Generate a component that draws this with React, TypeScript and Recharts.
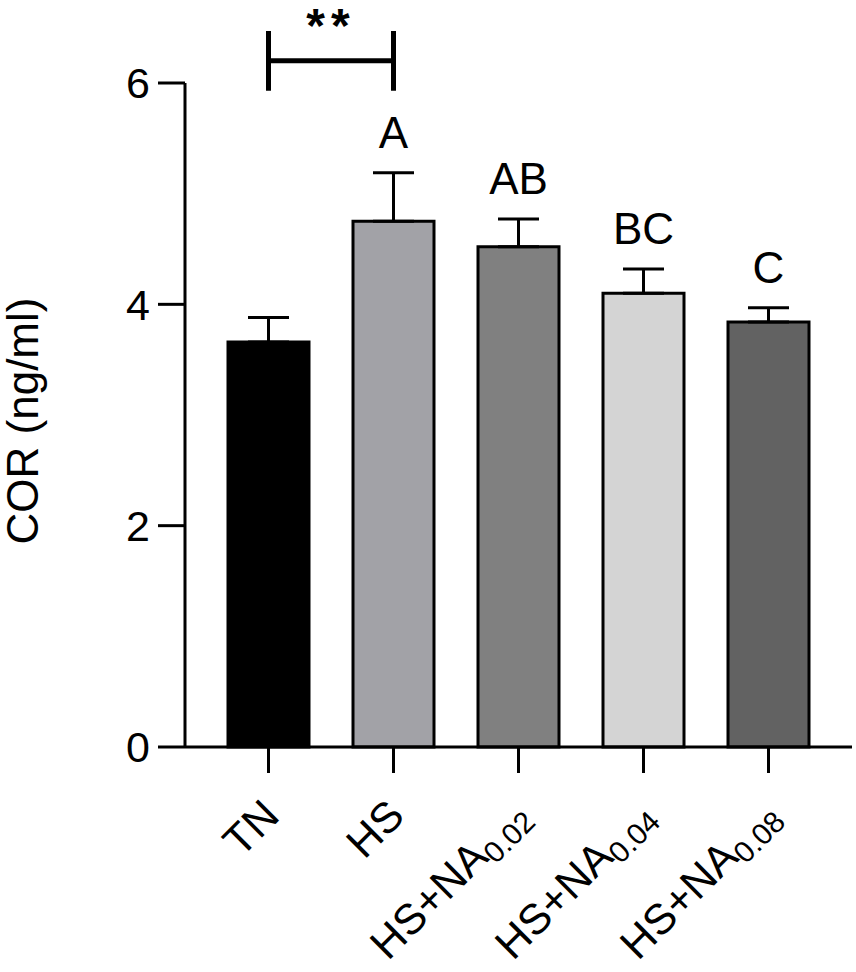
import React from 'react';
import { BarChart, Bar, XAxis, YAxis, Cell, ErrorBar, LabelList, ReferenceLine } from 'recharts';

const categories = ['TN', 'HS', 'HS+NA0.02', 'HS+NA0.04', 'HS+NA0.08'];
const tickMain = ['TN', 'HS', 'HS+NA', 'HS+NA', 'HS+NA'];
const tickSub = ['', '', '0.02', '0.04', '0.08'];
const means = [3.66, 4.75, 4.52, 4.1, 3.84];
const sems = [0.22, 0.44, 0.25, 0.22, 0.13];
const letters = ['', 'A', 'AB', 'BC', 'C'];
const fills = ['#000000', '#a2a2a7', '#808080', '#d4d4d4', '#626262'];
const yTicks = [0, 2, 4, 6];
const bracketFrom = 'TN';
const bracketTo = 'HS';
const bracketY = 6.2;
const bracketTop = 6.47;
const bracketBottom = 5.93;
const bracketText = '**';

const data = categories.map((name, i) => ({
  name,
  mean: means[i],
  err: [0, sems[i]],
  idx: i,
}));

const FONT = "Arial, 'Liberation Sans', sans-serif";

const XTick = (props: any) => {
  const { x, y, index } = props;
  const i = typeof index === 'number' ? index : categories.indexOf(props.payload?.value);
  const ax = x + 13;
  const ay = y + 43;
  return (
    <text
      x={ax}
      y={ay}
      transform={`rotate(-45, ${ax}, ${ay})`}
      textAnchor="end"
      fontSize={43}
      fontFamily={FONT}
      fill="#000"
    >
      {tickMain[i]}
      {tickSub[i] ? (
        <tspan fontSize={30} dy={8}>
          {tickSub[i]}
        </tspan>
      ) : null}
    </text>
  );
};

const LetterLabel = (props: any) => {
  const vb = props.viewBox || props;
  const i = props.value;
  if (typeof i !== 'number' || !letters[i]) return null;
  const pxPerUnit = vb.height / means[i];
  const errTop = vb.y - sems[i] * pxPerUnit;
  return (
    <text
      x={vb.x + vb.width / 2}
      y={errTop - 25}
      textAnchor="middle"
      fontSize={44}
      fontFamily={FONT}
      fill="#000"
    >
      {letters[i]}
    </text>
  );
};

const StarLabel = (props: any) => {
  const vb = props.viewBox;
  if (!vb) return null;
  return (
    <text
      x={vb.x + (vb.width || 0) / 2}
      y={vb.y - 19}
      textAnchor="middle"
      fontSize={48}
      fontWeight="bold"
      letterSpacing={6}
      fontFamily={FONT}
      fill="#000"
    >
      {bracketText}
    </text>
  );
};

const YLabel = (props: any) => {
  const vb = props.viewBox;
  const cx = vb.x - 47;
  const cy = vb.y + vb.height / 2 + 6;
  return (
    <text
      x={cx}
      y={cy}
      transform={`rotate(-90, ${cx}, ${cy})`}
      textAnchor="middle"
      fontSize={44}
      fontFamily={FONT}
      fill="#000"
    >
      COR (ng/ml)
    </text>
  );
};

export default function App() {
  return (
    <div style={{ position: 'absolute', left: 0, top: 0, width: 856, height: 972, background: '#fff' }}>
      <BarChart
        width={856}
        height={972}
        data={data}
        margin={{ top: 83, right: 4, left: 85, bottom: 25 }}
      >
        <XAxis
          dataKey="name"
          height={200}
          padding={{ left: 21, right: 21 }}
          axisLine={{ stroke: '#000', strokeWidth: 3 }}
          tickLine={{ stroke: '#000', strokeWidth: 3 }}
          tickSize={26}
          tickMargin={2}
          interval={0}
          tick={<XTick />}
        />
        <YAxis
          width={100}
          domain={[0, 6]}
          ticks={yTicks}
          axisLine={{ stroke: '#000', strokeWidth: 3 }}
          tickLine={{ stroke: '#000', strokeWidth: 3 }}
          tickSize={27}
          tickMargin={8}
          tick={{ fontSize: 43, fontFamily: FONT, fill: '#000' }}
          label={<YLabel />}
        />
        <Bar dataKey="mean" barSize={81} stroke="#000" strokeWidth={3} isAnimationActive={false}>
          {data.map((d, i) => (
            <Cell key={d.name} fill={fills[i]} />
          ))}
          <ErrorBar dataKey="err" width={20.5} stroke="#000" strokeWidth={3} direction="y" isAnimationActive={false} />
          <LabelList dataKey="idx" content={<LetterLabel />} />
        </Bar>
        <ReferenceLine
          segment={[{ x: bracketFrom, y: bracketY }, { x: bracketTo, y: bracketY }]}
          stroke="#000"
          strokeWidth={5}
          ifOverflow="visible"
          label={<StarLabel />}
        />
        <ReferenceLine
          segment={[{ x: bracketFrom, y: bracketBottom }, { x: bracketFrom, y: bracketTop }]}
          stroke="#000"
          strokeWidth={5}
          ifOverflow="visible"
        />
        <ReferenceLine
          segment={[{ x: bracketTo, y: bracketBottom }, { x: bracketTo, y: bracketTop }]}
          stroke="#000"
          strokeWidth={5}
          ifOverflow="visible"
        />
      </BarChart>
    </div>
  );
}
